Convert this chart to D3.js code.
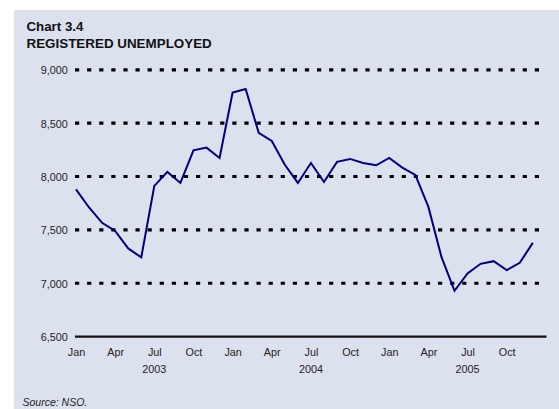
<!DOCTYPE html>
<html>
<head>
<meta charset="utf-8">
<script src="https://cdn.jsdelivr.net/npm/d3@7"></script>
<style>
  html, body { margin: 0; padding: 0; background: #ffffff; }
  svg { display: block; font-family: "Liberation Sans", Arial, Helvetica, sans-serif; }
</style>
</head>
<body>
<svg id="chart" width="559" height="409"></svg>
<script>
// Registered unemployed, monthly, Jan 2003 – Dec 2005
const months = [
  "2003-01","2003-02","2003-03","2003-04","2003-05","2003-06",
  "2003-07","2003-08","2003-09","2003-10","2003-11","2003-12",
  "2004-01","2004-02","2004-03","2004-04","2004-05","2004-06",
  "2004-07","2004-08","2004-09","2004-10","2004-11","2004-12",
  "2005-01","2005-02","2005-03","2005-04","2005-05","2005-06",
  "2005-07","2005-08","2005-09","2005-10","2005-11","2005-12"
];
const unemployed = [
  7880, 7710, 7566, 7490, 7326, 7242,
  7912, 8043, 7940, 8246, 8271, 8174,
  8786, 8820, 8410, 8333, 8110, 7940,
  8127, 7949, 8137, 8165, 8127, 8105,
  8174, 8084, 8015, 7715, 7247, 6929,
  7092, 7182, 7207, 7123, 7191, 7378
];
const yTicks = [6500, 7000, 7500, 8000, 8500, 9000];
const monthTickLabels = ["Jan","Apr","Jul","Oct","Jan","Apr","Jul","Oct","Jan","Apr","Jul","Oct"];
const yearLabels = ["2003", "2004", "2005"];
const titleLines = ["Chart 3.4", "REGISTERED UNEMPLOYED"];
const sourceNote = "Source:  NSO.";

const svg = d3.select("#chart");

// panel background
svg.append("rect")
  .attr("x", 14).attr("y", 10)
  .attr("width", 545).attr("height", 399)
  .attr("fill", "#dce1ee");

// titles
svg.append("text").attr("x", 26.5).attr("y", 31)
  .attr("font-size", 13.3).attr("font-weight", "bold").attr("fill", "#111")
  .text(titleLines[0]);
svg.append("text").attr("x", 26.5).attr("y", 48)
  .attr("font-size", 13.4).attr("font-weight", "bold").attr("fill", "#111")
  .text(titleLines[1]);

const x = d3.scalePoint().domain(months).range([76, 532.8]);
const y = d3.scaleLinear().domain([6500, 9000]).range([336.6, 69.8]);

// dotted gridlines (excluding the baseline)
const grid = svg.append("g");
grid.selectAll("line")
  .data(yTicks.filter(v => v > 6500))
  .join("line")
  .attr("x1", 75).attr("x2", 541)
  .attr("y1", d => y(d)).attr("y2", d => y(d))
  .attr("stroke", "#000")
  .attr("stroke-width", 3.2)
  .attr("stroke-dasharray", "4.2,7.9");

// baseline
svg.append("line")
  .attr("x1", 75).attr("x2", 546.5)
  .attr("y1", y(6500)).attr("y2", y(6500))
  .attr("stroke", "#111").attr("stroke-width", 2.2);

// y axis labels
const yAxis = d3.axisLeft(y).tickValues(yTicks).tickSize(0).tickPadding(0)
  .tickFormat(d3.format(","));
const yg = svg.append("g").attr("transform", "translate(67.8,0)").call(yAxis);
yg.select(".domain").remove();
yg.selectAll("text")
  .attr("font-size", 10.8)
  .attr("font-family", "Liberation Sans, Arial, sans-serif")
  .attr("fill", "#222")
  .attr("dy", "0.36em");

// month labels every quarter
const quarterMonths = months.filter((m, i) => i % 3 === 0);
const xAxis = d3.axisBottom(x).tickValues(quarterMonths).tickSize(0).tickPadding(0)
  .tickFormat((d, i) => monthTickLabels[i]);
const xg = svg.append("g").attr("transform", "translate(0,355.5)").call(xAxis);
xg.select(".domain").remove();
xg.selectAll("text")
  .attr("font-size", 10.8)
  .attr("font-family", "Liberation Sans, Arial, sans-serif")
  .attr("fill", "#222")
  .attr("dy", 0);

// year labels under July
svg.append("g").selectAll("text")
  .data(yearLabels)
  .join("text")
  .attr("x", d => x(d + "-07"))
  .attr("y", 373)
  .attr("text-anchor", "middle")
  .attr("font-size", 10.8)
  .attr("fill", "#222")
  .text(d => d);

// series line
const line = d3.line()
  .x((d, i) => x(months[i]))
  .y(d => y(d));
svg.append("path")
  .datum(unemployed)
  .attr("d", line)
  .attr("fill", "none")
  .attr("stroke", "#00007f")
  .attr("stroke-width", 2)
  .attr("stroke-linejoin", "miter");

// source note
svg.append("text").attr("x", 22.5).attr("y", 406)
  .attr("font-size", 10.5).attr("font-style", "italic").attr("fill", "#222")
  .text(sourceNote);
</script>
</body>
</html>
